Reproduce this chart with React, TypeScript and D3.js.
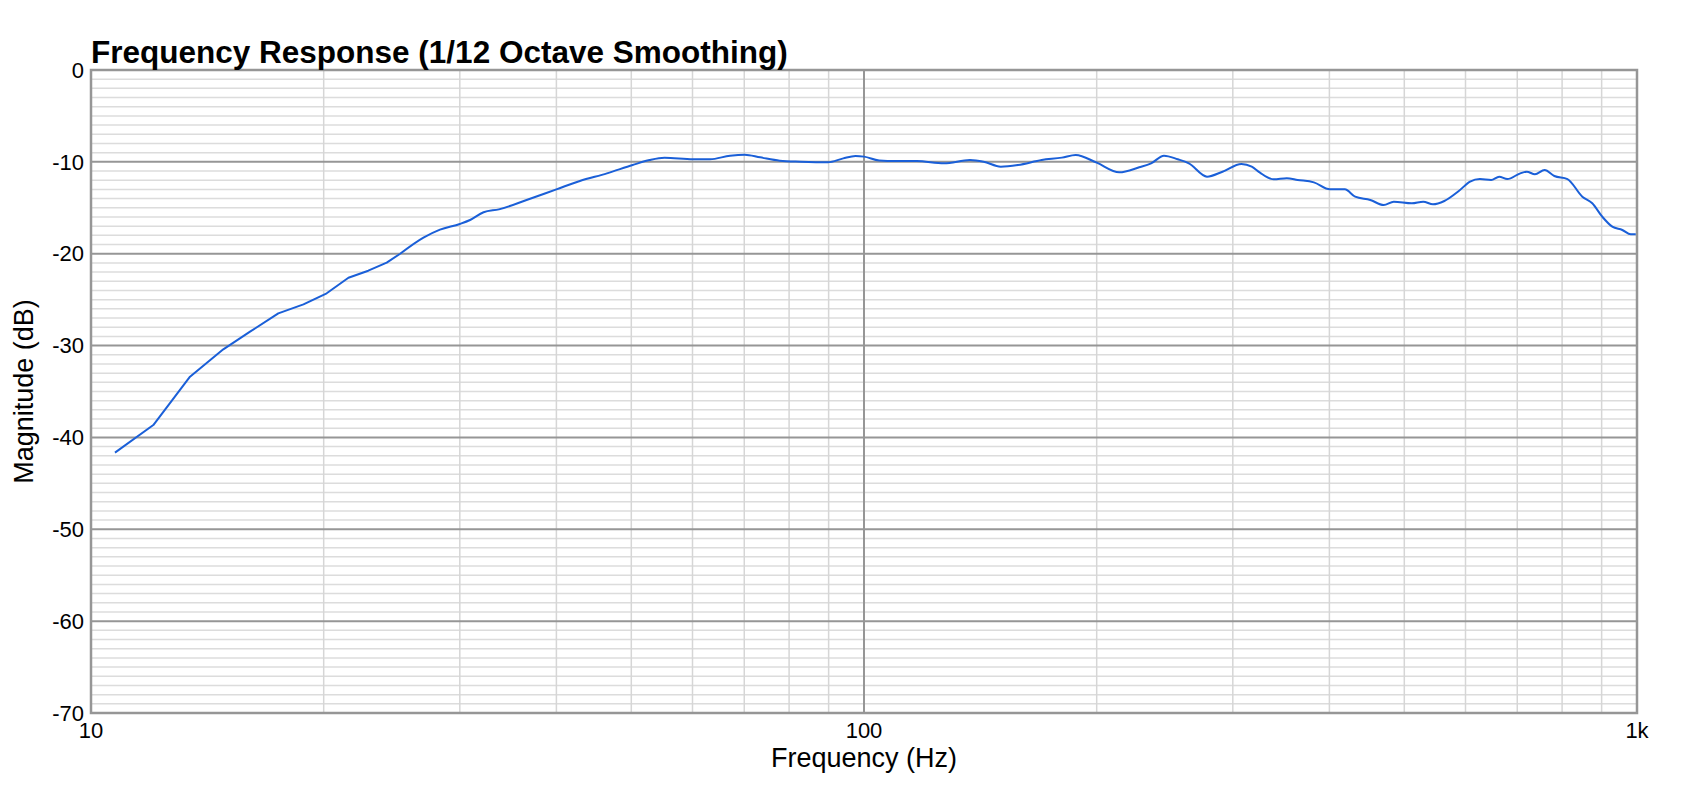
import * as d3 from 'd3';

// Frequency response readings (Hz, dB)
const freqs = [
  10.74, 12.04, 13.43, 14.83, 16.06, 17.47, 18.83, 20.18, 21.53, 22.84, 24.13,
  25.09, 26.92, 28.28, 30.0, 30.93, 32.2, 33.7, 36.6, 40.0, 42.9, 46.5, 50.2,
  52.8, 55.2, 60.1, 63.2, 67.1, 70.1, 73.4, 77.8, 82.8, 89.8, 94.0, 97.5, 100,
  104.6, 109.9, 117.0, 126.9, 137.1, 142.8, 150.3, 158.2, 169.8, 180.3, 187.9,
  200.0, 213.9, 227.0, 235.2, 244.4, 254.6, 263.2, 277.8, 290.9, 307.8, 317.4,
  325.3, 338.9, 352.3, 363.9, 381.9, 400.6, 418.8, 431.9, 451.8, 470.2, 484.6,
  511.4, 529.0, 544.6, 563.3, 588.1, 608.2, 626.2, 647.6, 663.3, 679.6, 706.3,
  720.2, 737.8, 759.4, 781.8, 812.9, 849.7, 875.2, 901.7, 929.0, 957.2, 981.6,
  996.3,
];
const magnitudes = [
  -41.66, -38.65, -33.39, -30.41, -28.49, -26.49, -25.51, -24.31, -22.61, -21.85,
  -20.97, -20.03, -18.25, -17.38, -16.76, -16.33, -15.49, -15.17, -14.15, -12.99,
  -12.08, -11.25, -10.34, -9.8, -9.55, -9.72, -9.72, -9.33, -9.22, -9.51, -9.87,
  -9.98, -10.05, -9.62, -9.36, -9.43, -9.84, -9.91, -9.91, -10.16, -9.8, -9.98,
  -10.52, -10.34, -9.8, -9.54, -9.25, -10.09, -11.14, -10.59, -10.16, -9.33,
  -9.72, -10.16, -11.61, -11.07, -10.23, -10.52, -11.18, -11.9, -11.79, -11.97,
  -12.23, -12.99, -12.99, -13.79, -14.15, -14.7, -14.33, -14.51, -14.33, -14.62,
  -14.26, -13.17, -12.15, -11.87, -11.97, -11.61, -11.87, -11.25, -11.07, -11.36,
  -10.89, -11.54, -11.87, -13.79, -14.51, -15.97, -17.06, -17.42, -17.89, -17.89,
];

const xTicks = [10, 100, 1000];
const xTickLabels = ['10', '100', '1k'];
const xMinor = [20, 30, 40, 50, 60, 70, 80, 90, 200, 300, 400, 500, 600, 700, 800, 900];
const yTicks = [0, -10, -20, -30, -40, -50, -60, -70];

// below this frequency the smoothed data is sparse, drawn with straight segments
const linearBelow = 26;

export default function App() {
  const width = 1702;
  const height = 790;
  // plot area
  const left = 91;
  const right = 1637;
  const top = 70;
  const bottom = 713;

  const x = d3.scaleLog().domain([10, 1000]).range([left, right]);
  const y = d3.scaleLinear().domain([-70, 0]).range([bottom, top]);

  const yMinor = d3.range(-69, 0).filter((v) => v % 10 !== 0);

  const points: [number, number][] = freqs.map((f, i) => [f, magnitudes[i]]);
  const lowPts = points.filter((d) => d[0] <= linearBelow);
  const highPts = points.filter((d) => d[0] >= lowPts[lowPts.length - 1][0]);

  const linear = d3
    .line<[number, number]>()
    .x((d) => x(d[0]))
    .y((d) => y(d[1]));
  const smooth = d3
    .line<[number, number]>()
    .x((d) => x(d[0]))
    .y((d) => y(d[1]))
    .curve(d3.curveMonotoneX);

  const font = '"Liberation Sans", Arial, Helvetica, sans-serif';
  const blue = '#1a5fd8';

  return (
    <div style={{ position: 'absolute', left: 0, top: 0 }}>
      <svg width={width} height={height} style={{ display: 'block', background: '#fff' }}>
        {/* minor grid */}
        {yMinor.map((v) => (
          <line key={'ym' + v} x1={left} x2={right} y1={y(v)} y2={y(v)} stroke="#dcdcdc" strokeWidth={1.5} />
        ))}
        {xMinor.map((f) => (
          <line key={'xm' + f} x1={x(f)} x2={x(f)} y1={top} y2={bottom} stroke="#d6d6d6" strokeWidth={1.5} />
        ))}
        {/* major grid */}
        {yTicks.map((v) => (
          <line key={'yM' + v} x1={left} x2={right} y1={y(v)} y2={y(v)} stroke="#969696" strokeWidth={2} />
        ))}
        {xTicks.map((f) => (
          <line key={'xM' + f} x1={x(f)} x2={x(f)} y1={top} y2={bottom} stroke="#969696" strokeWidth={2} />
        ))}
        <rect x={left} y={top} width={right - left} height={bottom - top} fill="none" stroke="#969696" strokeWidth={2.5} />

        {/* data */}
        <path d={linear(lowPts) ?? ''} fill="none" stroke={blue} strokeWidth={2} strokeLinejoin="round" />
        <path d={smooth(highPts) ?? ''} fill="none" stroke={blue} strokeWidth={2} strokeLinejoin="round" />

        {/* tick labels */}
        {yTicks.map((v) => (
          <text key={'yl' + v} x={84} y={y(v)} dy="0.35em" textAnchor="end" fontFamily={font} fontSize={22} fill="#000">
            {v}
          </text>
        ))}
        {xTicks.map((f, i) => (
          <text key={'xl' + f} x={x(f)} y={738} textAnchor="middle" fontFamily={font} fontSize={22} fill="#000">
            {xTickLabels[i]}
          </text>
        ))}

        {/* titles */}
        <text x={left} y={63} fontFamily={font} fontSize={31.5} fontWeight="bold" fill="#000">
          Frequency Response (1/12 Octave Smoothing)
        </text>
        <text x={(left + right) / 2} y={767} textAnchor="middle" fontFamily={font} fontSize={27} fill="#000">
          Frequency (Hz)
        </text>
        <text
          transform={`translate(33,${(top + bottom) / 2}) rotate(-90)`}
          textAnchor="middle"
          fontFamily={font}
          fontSize={27}
          fill="#000"
        >
          Magnitude (dB)
        </text>
      </svg>
    </div>
  );
}
